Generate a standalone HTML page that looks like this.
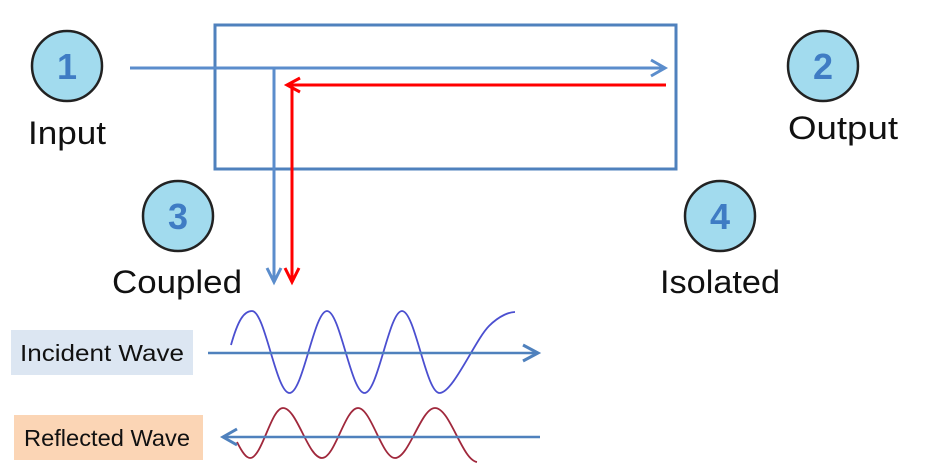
<!DOCTYPE html>
<html><head><meta charset="utf-8"><style>
html,body{margin:0;padding:0;background:#fff;}
svg{display:block;}
text{font-family:"Liberation Sans",sans-serif;}
</style></head><body>
<svg width="943" height="472" viewBox="0 0 943 472" xmlns="http://www.w3.org/2000/svg">
<rect x="215" y="25" width="461" height="144" fill="none" stroke="#4f81bd" stroke-width="3"/>
<line x1="130" y1="68" x2="664" y2="68" stroke="#5b8dcc" stroke-width="3"/>
<polyline points="651,60 665,68 651,76" fill="none" stroke="#5b8dcc" stroke-width="3"/>
<line x1="274" y1="68" x2="274" y2="281" stroke="#5b8dcc" stroke-width="3"/>
<polyline points="267,268 274,282 281,268" fill="none" stroke="#5b8dcc" stroke-width="3"/>
<line x1="666" y1="85" x2="288" y2="85" stroke="#ff0000" stroke-width="3"/>
<polyline points="300,78 287,85 300,92" fill="none" stroke="#ff0000" stroke-width="3"/>
<line x1="292" y1="85" x2="292" y2="281" stroke="#ff0000" stroke-width="3"/>
<polyline points="285,268 292,282 299,268" fill="none" stroke="#ff0000" stroke-width="3"/>
<g stroke="#222" stroke-width="2.5" fill="#a2dbee">
<circle cx="67" cy="66" r="35"/><circle cx="823" cy="66" r="35"/>
<circle cx="178" cy="216" r="35"/><circle cx="720" cy="216" r="35"/>
</g>
<g font-size="36" font-weight="bold" fill="#3f7cc4" text-anchor="middle">
<text x="67" y="79">1</text><text x="823" y="79">2</text>
<text x="178" y="229">3</text><text x="720" y="229">4</text>
</g>
<g font-size="32" fill="#111">
<text x="28" y="144" textLength="78" lengthAdjust="spacingAndGlyphs">Input</text>
<text x="788" y="139" textLength="110" lengthAdjust="spacingAndGlyphs">Output</text>
<text x="112" y="293" textLength="130" lengthAdjust="spacingAndGlyphs">Coupled</text>
<text x="660" y="293" textLength="120" lengthAdjust="spacingAndGlyphs">Isolated</text>
</g>
<rect x="11" y="330" width="182" height="45" fill="#dce6f2"/>
<text x="20" y="361" font-size="23" fill="#111" textLength="164" lengthAdjust="spacingAndGlyphs">Incident Wave</text>
<path d="M231,345 C238,320 244,311 252,311 C265,311 276,393 289.5,393 C303,393 314,311 327,311 C340,311 351,393 364.5,393 C378,393 389,311 402,311 C415,311 426,393 439.5,393 C453,393 475,340 489,326 C500,315 510,312 515,312" fill="none" stroke="#4b4fd0" stroke-width="1.8"/>
<line x1="208" y1="353" x2="537" y2="353" stroke="#4f81bd" stroke-width="2.5"/>
<polyline points="523,345 538,353 523,361" fill="none" stroke="#4f81bd" stroke-width="3"/>
<rect x="14" y="415" width="189" height="45" fill="#fbd5b5"/>
<text x="24" y="446" font-size="23" fill="#111" textLength="166" lengthAdjust="spacingAndGlyphs">Reflected Wave</text>
<path d="M237,442 C242,452 246,458 250,458 C262,458 271,408 283,408 C297,408 308,458 322,458 C335,458 345,408 358,408 C371,408 382,458 395,458 C409,458 421,408 435,408 C450,408 462,460 477,462" fill="none" stroke="#a0283c" stroke-width="1.8"/>
<line x1="224" y1="437" x2="540" y2="437" stroke="#4f81bd" stroke-width="2.5"/>
<polyline points="237,429 223,437 237,445" fill="none" stroke="#4f81bd" stroke-width="3"/>
</svg>
</body></html>
